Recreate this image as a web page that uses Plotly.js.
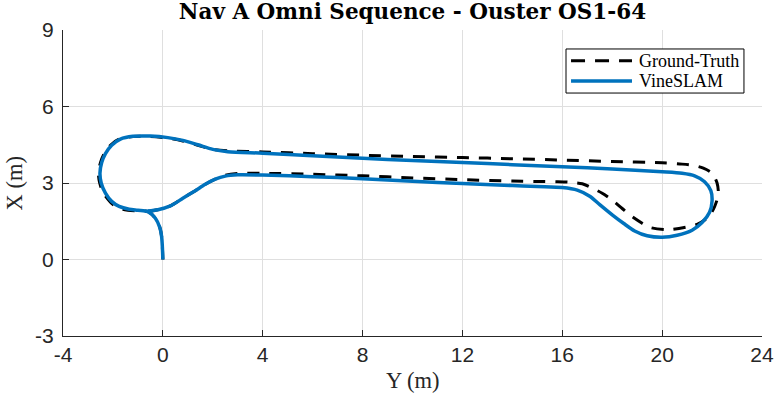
<!DOCTYPE html>
<html>
<head>
<meta charset="utf-8">
<script src="https://cdn.plot.ly/plotly-3.0.1.min.js"></script>
<style>html,body{margin:0;padding:0;background:#fff;}#chart{width:776px;height:398px;}</style>
</head>
<body>
<div id="chart"></div>
<script>
// Horizontal axis = Y (m), vertical axis = X (m)
const gtY = [0, -0.02, -0.05, -0.12, -0.3, -0.6, -1.0, -1.4, -1.8, -2.1, -2.38, -2.53, -2.58, -2.5, -2.35, -2.1, -1.75, -1.2, -0.5, 0.2, 0.8, 1.4, 2.0, 2.6, 4, 6, 8, 10, 12, 14, 16, 18, 20, 20.8, 21.3, 21.65, 22.0, 22.2, 22.25, 22.1, 21.95, 21.75, 21.4, 21.0, 20.4, 20.1, 19.5, 19.2, 18.7, 18.4, 18.0, 17.6, 17.2, 16.8, 16.3, 15.8, 15, 14, 12, 10, 8, 6, 4, 3, 2.5, 2.1, 1.7, 1.3, 0.8, 0.3, -0.2, -0.6];
const gtX = [0, 0.5, 0.9, 1.25, 1.62, 1.88, 1.9, 1.93, 2.02, 2.25, 2.6, 3.0, 3.38, 3.8, 4.15, 4.48, 4.72, 4.82, 4.82, 4.76, 4.65, 4.48, 4.32, 4.26, 4.22, 4.15, 4.09, 4.04, 4.0, 3.95, 3.9, 3.84, 3.79, 3.74, 3.68, 3.58, 3.38, 3.0, 2.55, 2.07, 1.8, 1.58, 1.38, 1.28, 1.18, 1.17, 1.26, 1.42, 1.75, 2.0, 2.33, 2.6, 2.8, 2.97, 3.03, 3.05, 3.06, 3.08, 3.13, 3.2, 3.28, 3.34, 3.38, 3.37, 3.3, 3.15, 2.95, 2.7, 2.4, 2.1, 1.95, 1.88];

const slamY = [0, -0.02, -0.05, -0.12, -0.3, -0.6, -1.0, -1.35, -1.75, -2.05, -2.3, -2.47, -2.52, -2.45, -2.3, -2.05, -1.7, -1.2, -0.5, 0.2, 0.8, 1.4, 2.0, 2.6, 4, 6, 8, 10, 12, 14, 16, 18, 20, 20.8, 21.3, 21.7, 21.95, 22.0, 21.9, 21.6, 21.2, 20.6, 20.0, 19.4, 18.9, 18.45, 18.0, 17.5, 17.1, 16.6, 16.0, 15, 14, 12, 10, 8, 6, 4, 3, 2.5, 2.1, 1.7, 1.3, 0.8, 0.3, -0.2, -0.6];
const slamX = [0, 0.5, 0.9, 1.25, 1.62, 1.88, 1.93, 1.97, 2.08, 2.28, 2.6, 3.0, 3.38, 3.8, 4.15, 4.48, 4.72, 4.83, 4.84, 4.78, 4.67, 4.5, 4.32, 4.23, 4.17, 4.07, 3.97, 3.88, 3.8, 3.72, 3.64, 3.55, 3.44, 3.38, 3.28, 3.05, 2.7, 2.3, 1.85, 1.45, 1.15, 0.95, 0.87, 0.93, 1.12, 1.42, 1.75, 2.15, 2.48, 2.72, 2.82, 2.86, 2.9, 2.98, 3.07, 3.17, 3.25, 3.31, 3.32, 3.27, 3.15, 2.95, 2.7, 2.4, 2.1, 1.95, 1.9];

const xTicks = [-4, 0, 4, 8, 12, 16, 20, 24];
const yTicks = [-3, 0, 3, 6, 9];
const seriesNames = ['Ground-Truth', 'VineSLAM'];
const seriesColors = ['#000000', '#0072BD'];

const traces = [
  {x: gtY, y: gtX, type: 'scatter', mode: 'lines', name: seriesNames[0],
   line: {color: seriesColors[0], width: 3, dash: '12px,10px', shape: 'spline', smoothing: 0.8}},
  {x: slamY, y: slamX, type: 'scatter', mode: 'lines', name: seriesNames[1],
   line: {color: seriesColors[1], width: 3.5, shape: 'spline', smoothing: 0.8}}
];

const axisCommon = {
  ticks: 'inside', ticklen: 6, tickcolor: '#262626', tickwidth: 1,
  showline: true, linecolor: '#262626', linewidth: 1,
  showgrid: true, gridcolor: '#dfdfdf', gridwidth: 1,
  zeroline: false, tickmode: 'array',
  tickfont: {family: 'Liberation Sans', size: 21, color: '#262626'},
  automargin: false, fixedrange: true
};

// legend drawn manually in paper coords (MATLAB style)
const lgX0 = 0.7196, lgX1 = 0.9742, lgY0 = 0.794, lgY1 = 0.938;
const rowY = [0.8997, 0.8333];
const sampleX0 = 0.7268, sampleX1 = 0.8140, textX = 0.8207;

const layout = {
  width: 776, height: 398,
  margin: {l: 63, r: 14, t: 30, b: 62},
  paper_bgcolor: '#ffffff', plot_bgcolor: '#ffffff',
  showlegend: false,
  title: {text: 'Nav A Omni Sequence - Ouster OS1-64', x: 0.5, xref: 'paper', xanchor: 'center',
          y: 1 - 11/398, yref: 'container', yanchor: 'middle',
          font: {family: 'DejaVu Serif', size: 21.5, color: '#000000', weight: 'bold'}},
  xaxis: Object.assign({}, axisCommon, {range: [-4, 24], tickvals: xTicks, ticktext: xTicks.map(String)}),
  yaxis: Object.assign({}, axisCommon, {range: [-3, 9], tickvals: yTicks, ticktext: yTicks.map(String), ticklabelstandoff: 4}),
  shapes: [
    {type: 'rect', xref: 'paper', yref: 'paper', x0: lgX0, x1: lgX1, y0: lgY0, y1: lgY1,
     line: {color: '#000000', width: 1}, fillcolor: '#ffffff', layer: 'above'},
    {type: 'line', xref: 'paper', yref: 'paper', x0: sampleX0, x1: sampleX1, y0: rowY[0], y1: rowY[0],
     line: {color: seriesColors[0], width: 3, dash: '14px,10px'}, layer: 'above'},
    {type: 'line', xref: 'paper', yref: 'paper', x0: sampleX0, x1: sampleX1, y0: rowY[1], y1: rowY[1],
     line: {color: seriesColors[1], width: 3.5}, layer: 'above'}
  ],
  annotations: [
    {text: seriesNames[0], xref: 'paper', yref: 'paper', x: textX, y: rowY[0], xanchor: 'left', yanchor: 'middle',
     showarrow: false, font: {family: 'Liberation Serif', size: 18, color: '#000000'}},
    {text: seriesNames[1], xref: 'paper', yref: 'paper', x: textX, y: rowY[1], xanchor: 'left', yanchor: 'middle',
     showarrow: false, font: {family: 'Liberation Serif', size: 18, color: '#000000'}},
    {text: 'Y (m)', xref: 'paper', yref: 'paper', x: 0.5, y: -0.1438, xanchor: 'center', yanchor: 'middle',
     showarrow: false, font: {family: 'Liberation Serif', size: 22.5, color: '#262626'}},
    {text: 'X (m)', xref: 'paper', yref: 'paper', x: -0.0694, y: 0.5, xanchor: 'center', yanchor: 'middle',
     textangle: -90, showarrow: false, font: {family: 'Liberation Serif', size: 22.5, color: '#262626'}}
  ]
};

Plotly.newPlot('chart', traces, layout, {displayModeBar: false, staticPlot: true});
</script>
</body>
</html>
